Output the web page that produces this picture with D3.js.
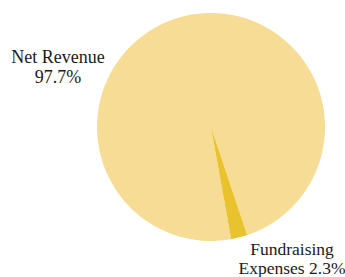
<!DOCTYPE html>
<html>
<head>
<meta charset="utf-8">
<script src="https://cdn.jsdelivr.net/npm/d3@7"></script>
<style>
  body { margin: 0; background: #fff; }
</style>
</head>
<body>
<div id="chart"></div>
<script>
// slice data
const categories = ["Net Revenue", "Fundraising Expenses"];
const shares = [97.7, 2.3];
const sliceColors = ["#f6dc94", "#e8c32e"];

const width = 345, height = 277;
const cx = 211, cy = 127, radius = 114;
const serif = "'Liberation Serif', 'Times New Roman', Times, 'DejaVu Serif', serif";

const svg = d3.select("#chart")
    .append("svg")
    .attr("width", width)
    .attr("height", height);

// start angle picked so the small slice sits a bit right of straight down
const startDeg = 169.8;
const pie = d3.pie()
    .sort(null)
    .startAngle(startDeg * Math.PI / 180)
    .endAngle(startDeg * Math.PI / 180 + 2 * Math.PI)
    .value(d => d.value);

const arc = d3.arc().innerRadius(0).outerRadius(radius);

const data = categories.map((c, i) => ({ name: c, value: shares[i], color: sliceColors[i] }));

const g = svg.append("g")
    .attr("transform", `translate(${cx}, ${cy})`);

g.selectAll("path")
    .data(pie(data))
    .enter()
    .append("path")
    .attr("d", arc)
    .attr("fill", d => d.data.color);

// labels
const fmt = v => v.toFixed(1) + "%";

const netLabel = svg.append("text")
    .attr("text-anchor", "middle")
    .style("font-family", serif)
    .style("font-size", "18px")
    .attr("fill", "#1a1a1a");
netLabel.append("tspan").attr("x", 58).attr("y", 63).text(categories[0]);
netLabel.append("tspan").attr("x", 58).attr("y", 83).text(fmt(shares[0]));

const fundLabel = svg.append("text")
    .attr("text-anchor", "middle")
    .style("font-family", serif)
    .style("font-size", "17.5px")
    .attr("fill", "#1a1a1a");
fundLabel.append("tspan").attr("x", 292).attr("y", 255).text("Fundraising");
fundLabel.append("tspan").attr("x", 292).attr("y", 274).text("Expenses " + fmt(shares[1]));
</script>
</body>
</html>
